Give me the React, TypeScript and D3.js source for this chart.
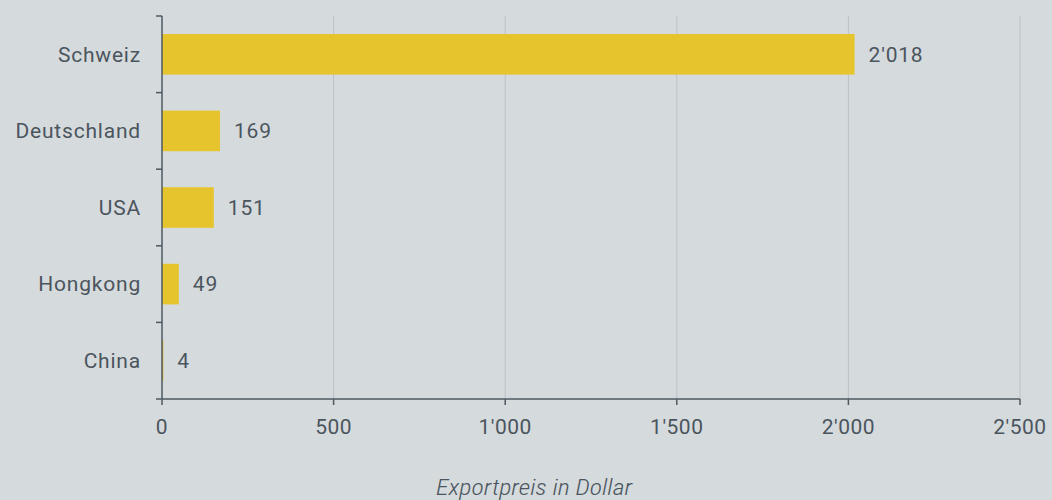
import React from "react";
import * as d3 from "d3";

const categories = ["Schweiz", "Deutschland", "USA", "Hongkong", "China"];
const values = [2018, 169, 151, 49, 4];
const xTicks = [0, 500, 1000, 1500, 2000, 2500];
const axisTitle = "Exportpreis in Dollar";

const W = 1052;
const H = 500;
const left = 162;
const right = 1020;
const top = 16;
const bottom = 399;

const fmt = (v: number) => d3.format(",")(v).replace(/,/g, "'");

export default function App() {
  const x = d3.scaleLinear().domain([0, 2500]).range([left, right]);
  const y = d3
    .scaleBand<string>()
    .domain(categories)
    .range([top, bottom])
    .paddingInner(0.47)
    .paddingOuter(0.235);
  const boundaries = d3.range(categories.length + 1).map((i) => top + i * ((bottom - top) / categories.length));
  const textColor = "#4b555d";
  const font = "Roboto, 'Helvetica Neue', Arial, sans-serif";
  return (
    <svg
      width={W}
      height={H}
      style={{ position: "fixed", left: 0, top: 0, background: "#d5dadd" }}
    >
      <rect x={0} y={0} width={W} height={H} fill="#d5dadd" />
      {xTicks.slice(1).map((t) => (
        <line key={"g" + t} x1={x(t)} x2={x(t)} y1={top} y2={bottom} stroke="#bcc2c6" strokeWidth={1} />
      ))}
      {categories.map((c, i) => (
        <rect key={c} x={x(0)} y={y(c)!} width={x(values[i]) - x(0)} height={y.bandwidth()} fill="#e6c42e" />
      ))}
      {categories.map((c, i) => (
        <text
          key={"v" + c}
          x={x(values[i]) + 14}
          y={y(c)! + y.bandwidth() / 2}
          dy="0.35em"
          fontFamily={font}
          fontSize={21}
          letterSpacing={0.8}
          fill={textColor}
        >
          {fmt(values[i])}
        </text>
      ))}
      {categories.map((c) => (
        <text
          key={"l" + c}
          x={left - 21}
          y={y(c)! + y.bandwidth() / 2}
          dy="0.35em"
          textAnchor="end"
          fontFamily={font}
          fontSize={21}
          letterSpacing={0.8}
          fill={textColor}
        >
          {c}
        </text>
      ))}
      <line x1={left} x2={left} y1={top} y2={bottom} stroke="#4d5860" strokeWidth={1.5} />
      {boundaries.map((b, i) => (
        <line key={"yt" + i} x1={left - 6} x2={left} y1={b} y2={b} stroke="#4d5860" strokeWidth={1.5} />
      ))}
      <line x1={left} x2={right} y1={bottom} y2={bottom} stroke="#4d5860" strokeWidth={1.5} />
      {xTicks.map((t) => (
        <g key={"xt" + t}>
          <line x1={x(t)} x2={x(t)} y1={bottom} y2={bottom + 6} stroke="#4d5860" strokeWidth={1.5} />
          <text
            x={x(t)}
            y={427}
            dy="0.35em"
            textAnchor="middle"
            fontFamily={font}
            fontSize={21}
            letterSpacing={0.5}
            fill={textColor}
          >
            {fmt(t)}
          </text>
        </g>
      ))}
      <text
        x={534}
        y={487}
        dy="0.35em"
        textAnchor="middle"
        fontFamily="'Liberation Sans Narrow', 'Roboto Condensed', Roboto, sans-serif"
        fontStyle="italic"
        fontWeight={300}
        fontSize={22}
        textLength={196}
        lengthAdjust="spacingAndGlyphs"
        fill={textColor}
      >
        {axisTitle}
      </text>
    </svg>
  );
}
